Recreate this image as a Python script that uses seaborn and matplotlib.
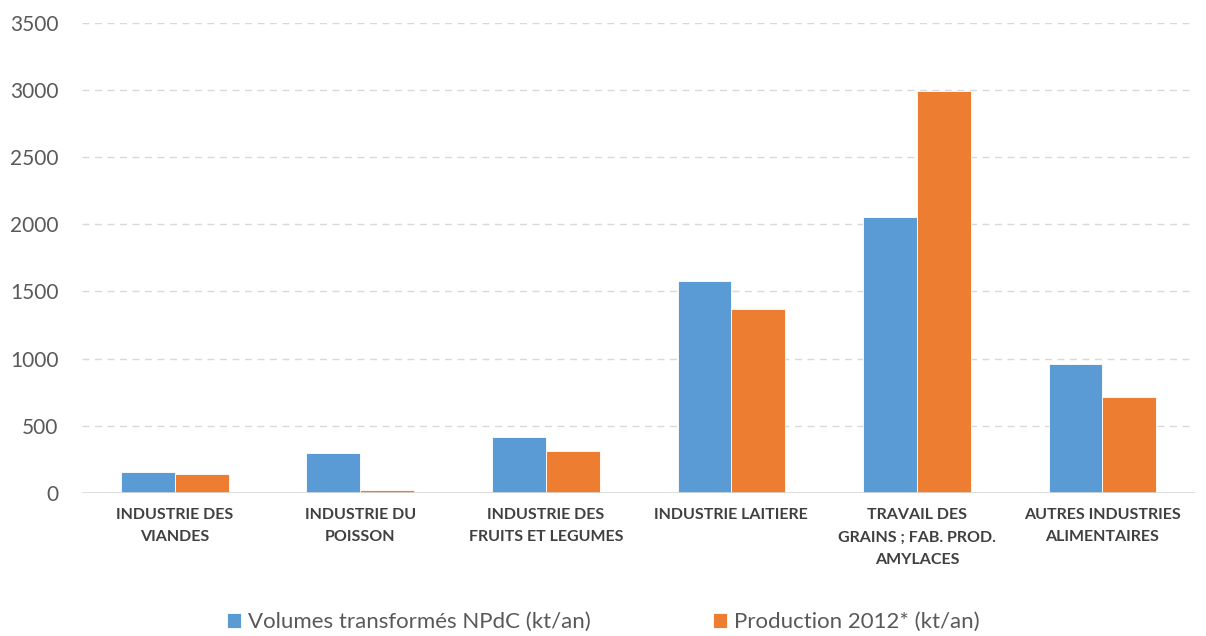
import pandas as pd
import matplotlib.pyplot as plt
import seaborn as sns

# data
categories = ["INDUSTRIE DES\nVIANDES", "INDUSTRIE DU\nPOISSON", "INDUSTRIE DES\nFRUITS ET LEGUMES",
              "INDUSTRIE LAITIERE", "TRAVAIL DES\nGRAINS ; FAB. PROD.\nAMYLACES",
              "AUTRES INDUSTRIES\nALIMENTAIRES"]
volumes = [155, 295, 415, 1575, 2055, 960]
production = [140, 25, 315, 1370, 2990, 715]
series_names = ["Volumes transformés NPdC (kt/an)", "Production 2012* (kt/an)"]
y_ticks = [0, 500, 1000, 1500, 2000, 2500, 3000, 3500]

df = pd.DataFrame({
    "Categorie": categories * 2,
    "Valeur": volumes + production,
    "Serie": [series_names[0]] * len(categories) + [series_names[1]] * len(categories),
})

sns.set_style("white")
plt.rcParams["font.family"] = ["Lato", "DejaVu Sans"]

fig = plt.figure(figsize=(12.06, 6.36), dpi=100)
ax = fig.add_axes([0.068, 0.225, 0.923, 0.739])

sns.barplot(data=df, x="Categorie", y="Valeur", hue="Serie", order=categories,
            hue_order=series_names, palette=["#5B9BD5", "#ED7D31"], saturation=1,
            width=0.58, edgecolor="white", linewidth=0.6, ax=ax)

ax.set_ylim(0, 3500)
ax.set_xlim(-0.5, len(categories) - 0.5)
ax.set_yticks(y_ticks)
ax.set_yticklabels([str(t) for t in y_ticks], fontsize=15, color="#595959")
ax.set_xticks(range(len(categories)))
ax.set_xticklabels(categories, fontsize=11.5, fontweight="bold", color="#404040", linespacing=1.75)
ax.tick_params(axis="y", length=0, pad=17)
ax.tick_params(axis="x", length=0, pad=11)
ax.set_xlabel("")
ax.set_ylabel("")

# dashed grid, solid baseline
for t in y_ticks[1:]:
    ax.axhline(t, color="#D9D9D9", linestyle=(0, (5, 4)), linewidth=1, zorder=0)
ax.axhline(0, color="#D9D9D9", linewidth=1.2, zorder=3)
sns.despine(ax=ax, left=True, bottom=True)

handles, labels = ax.get_legend_handles_labels()
ax.legend_.remove()
fig.legend(handles, labels, loc="center", bbox_to_anchor=(0.5, 0.022), ncol=2, frameon=False,
           fontsize=16, labelcolor="#595959", handlelength=0.65, handleheight=0.65,
           handletextpad=0.3, columnspacing=5.5)

fig.savefig("out.png", dpi=100)
